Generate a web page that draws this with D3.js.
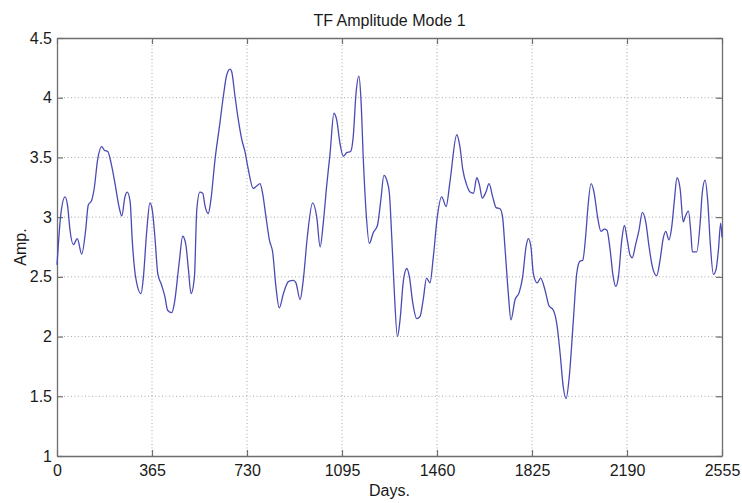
<!DOCTYPE html>
<html>
<head>
<meta charset="utf-8">
<script src="https://cdn.jsdelivr.net/npm/d3@7"></script>
<style>
  html, body { margin: 0; padding: 0; background: #fff; }
  svg { display: block; font-family: "Liberation Sans", Arial, sans-serif; }
</style>
</head>
<body>
<svg id="chart" width="742" height="503"></svg>
<script>
// values (days, amplitude)
const days = [0, 15, 31, 41, 50, 63, 78, 95, 110, 120, 133, 143, 156, 172, 182, 195, 208, 223, 238, 249, 261, 270, 281, 289, 302, 323, 332, 345, 357, 366, 377, 387, 402, 415, 425, 441, 451, 469, 483, 495, 505, 515, 528, 537, 549, 560, 569, 581, 591, 607, 626, 639, 652, 665, 671, 684, 697, 710, 722, 735, 754, 767, 780, 790, 803, 816, 829, 841, 854, 870, 889, 908, 918, 934, 946, 962, 982, 998, 1011, 1023, 1036, 1049, 1064, 1075, 1087, 1100, 1113, 1128, 1138, 1149, 1160, 1168, 1177, 1187, 1200, 1215, 1231, 1244, 1256, 1267, 1277, 1286, 1295, 1308, 1318, 1331, 1344, 1354, 1367, 1382, 1395, 1407, 1420, 1433, 1446, 1461, 1478, 1495, 1510, 1536, 1548, 1559, 1574, 1587, 1600, 1613, 1623, 1634, 1648, 1660, 1674, 1687, 1702, 1712, 1721, 1734, 1744, 1760, 1776, 1789, 1802, 1811, 1821, 1830, 1845, 1858, 1875, 1890, 1907, 1920, 1933, 1945, 1956, 1968, 1984, 1997, 2009, 2020, 2033, 2039, 2052, 2064, 2077, 2090, 2103, 2113, 2125, 2137, 2147, 2157, 2170, 2180, 2191, 2202, 2210, 2223, 2236, 2249, 2262, 2275, 2287, 2304, 2317, 2329, 2339, 2351, 2362, 2372, 2382, 2394, 2406, 2413, 2426, 2436, 2441, 2458, 2471, 2479, 2490, 2500, 2510, 2522, 2532, 2541, 2550, 2555];
const amp = [2.60, 3.03, 3.17, 3.09, 2.89, 2.77, 2.82, 2.69, 2.89, 3.10, 3.14, 3.24, 3.48, 3.59, 3.56, 3.55, 3.45, 3.28, 3.09, 3.01, 3.17, 3.21, 3.13, 2.81, 2.50, 2.36, 2.50, 2.89, 3.12, 3.06, 2.81, 2.53, 2.43, 2.33, 2.22, 2.20, 2.28, 2.61, 2.84, 2.77, 2.56, 2.36, 2.50, 3.06, 3.21, 3.20, 3.09, 3.03, 3.14, 3.48, 3.79, 4.01, 4.19, 4.24, 4.22, 4.01, 3.81, 3.65, 3.55, 3.40, 3.24, 3.26, 3.28, 3.20, 3.00, 2.81, 2.70, 2.42, 2.24, 2.36, 2.46, 2.47, 2.45, 2.31, 2.47, 2.84, 3.12, 3.00, 2.75, 2.95, 3.26, 3.53, 3.87, 3.81, 3.62, 3.51, 3.54, 3.55, 3.67, 4.04, 4.18, 3.98, 3.48, 3.06, 2.78, 2.87, 2.93, 3.14, 3.35, 3.31, 3.20, 2.84, 2.42, 2.00, 2.14, 2.47, 2.57, 2.50, 2.28, 2.15, 2.17, 2.31, 2.49, 2.45, 2.67, 3.00, 3.17, 3.09, 3.30, 3.69, 3.59, 3.40, 3.27, 3.21, 3.20, 3.33, 3.27, 3.16, 3.21, 3.28, 3.17, 3.08, 3.07, 3.00, 2.75, 2.36, 2.14, 2.31, 2.37, 2.50, 2.75, 2.82, 2.75, 2.53, 2.45, 2.49, 2.39, 2.26, 2.22, 2.11, 1.86, 1.58, 1.48, 1.66, 2.14, 2.53, 2.63, 2.64, 2.89, 3.06, 3.28, 3.20, 3.00, 2.88, 2.90, 2.89, 2.73, 2.50, 2.42, 2.50, 2.81, 2.93, 2.81, 2.68, 2.66, 2.77, 2.89, 3.04, 2.96, 2.75, 2.59, 2.51, 2.64, 2.82, 2.88, 2.81, 2.92, 3.14, 3.33, 3.24, 2.96, 3.00, 3.05, 2.85, 2.71, 2.71, 2.95, 3.20, 3.31, 3.14, 2.78, 2.52, 2.56, 2.72, 2.95, 2.83];

const xTicks = [0, 365, 730, 1095, 1460, 1825, 2190, 2555];
const yTicks = [1, 1.5, 2, 2.5, 3, 3.5, 4, 4.5];
const title = 'TF Amplitude Mode 1';
const xLabel = 'Days.';
const yLabel = 'Amp.';

const svg = d3.select('#chart');
const margin = {top: 38, right: 20, bottom: 47, left: 57};
const W = 742, H = 503;
const iw = W - margin.left - margin.right;
const ih = H - margin.top - margin.bottom;

const x = d3.scaleLinear().domain([0, 2555]).range([0, iw]);
const y = d3.scaleLinear().domain([1, 4.5]).range([ih, 0]);

const g = svg.append('g').attr('transform', `translate(${margin.left},${margin.top})`);

// dotted grid
g.append('g').selectAll('line').data(xTicks.slice(1, -1)).join('line')
  .attr('x1', d => x(d)).attr('x2', d => x(d)).attr('y1', 0).attr('y2', ih)
  .attr('stroke', '#a8a8a8').attr('stroke-width', 1).attr('stroke-dasharray', '1,2.5');
g.append('g').selectAll('line').data(yTicks.slice(1, -1)).join('line')
  .attr('x1', 0).attr('x2', iw).attr('y1', d => y(d)).attr('y2', d => y(d))
  .attr('stroke', '#a8a8a8').attr('stroke-width', 1).attr('stroke-dasharray', '1,2.5');

// axes: ticks point inward, labels outside, box on all sides
const tl = 6;
const fmtY = d => d3.format('~g')(d);
const axB = g.append('g').attr('transform', `translate(0,${ih})`)
  .call(d3.axisBottom(x).tickValues(xTicks).tickSizeInner(-tl).tickSizeOuter(0).tickPadding(9).tickFormat(d3.format('d')));
const axT = g.append('g')
  .call(d3.axisTop(x).tickValues(xTicks).tickSizeInner(-tl).tickSizeOuter(0).tickFormat(''));
const axL = g.append('g')
  .call(d3.axisLeft(y).tickValues(yTicks).tickSizeInner(-tl).tickSizeOuter(0).tickPadding(5).tickFormat(fmtY));
const axR = g.append('g').attr('transform', `translate(${iw},0)`)
  .call(d3.axisRight(y).tickValues(yTicks).tickSizeInner(-tl).tickSizeOuter(0).tickFormat(''));

[axB, axT, axL, axR].forEach(a => {
  a.select('.domain').attr('stroke', '#6e6e6e').attr('stroke-width', 1.3);
  a.selectAll('.tick line').attr('stroke', '#6e6e6e').attr('stroke-width', 1.2);
  a.selectAll('.tick text').attr('fill', '#1a1a1a').style('font-size', '16px');
});
axL.selectAll('.tick text').attr('x', -5);

// data line
const line = d3.line()
  .x((d, i) => x(days[i]))
  .y(d => y(d))
  .curve(d3.curveMonotoneX);

g.append('path')
  .datum(amp)
  .attr('d', line)
  .attr('fill', 'none')
  .attr('stroke', '#4a4ab4')
  .attr('stroke-width', 1.3)
  .attr('stroke-linejoin', 'round');

// titles
svg.append('text').attr('x', margin.left + iw / 2).attr('y', 26)
  .attr('text-anchor', 'middle').style('font-size', '16px').attr('fill', '#1a1a1a').text(title);
svg.append('text').attr('x', margin.left + iw / 2).attr('y', 496)
  .attr('text-anchor', 'middle').style('font-size', '16px').attr('fill', '#1a1a1a').text(xLabel);
svg.append('text').attr('transform', `translate(26,${margin.top + ih / 2}) rotate(-90)`)
  .attr('text-anchor', 'middle').style('font-size', '16px').attr('fill', '#1a1a1a').text(yLabel);
</script>
</body>
</html>
